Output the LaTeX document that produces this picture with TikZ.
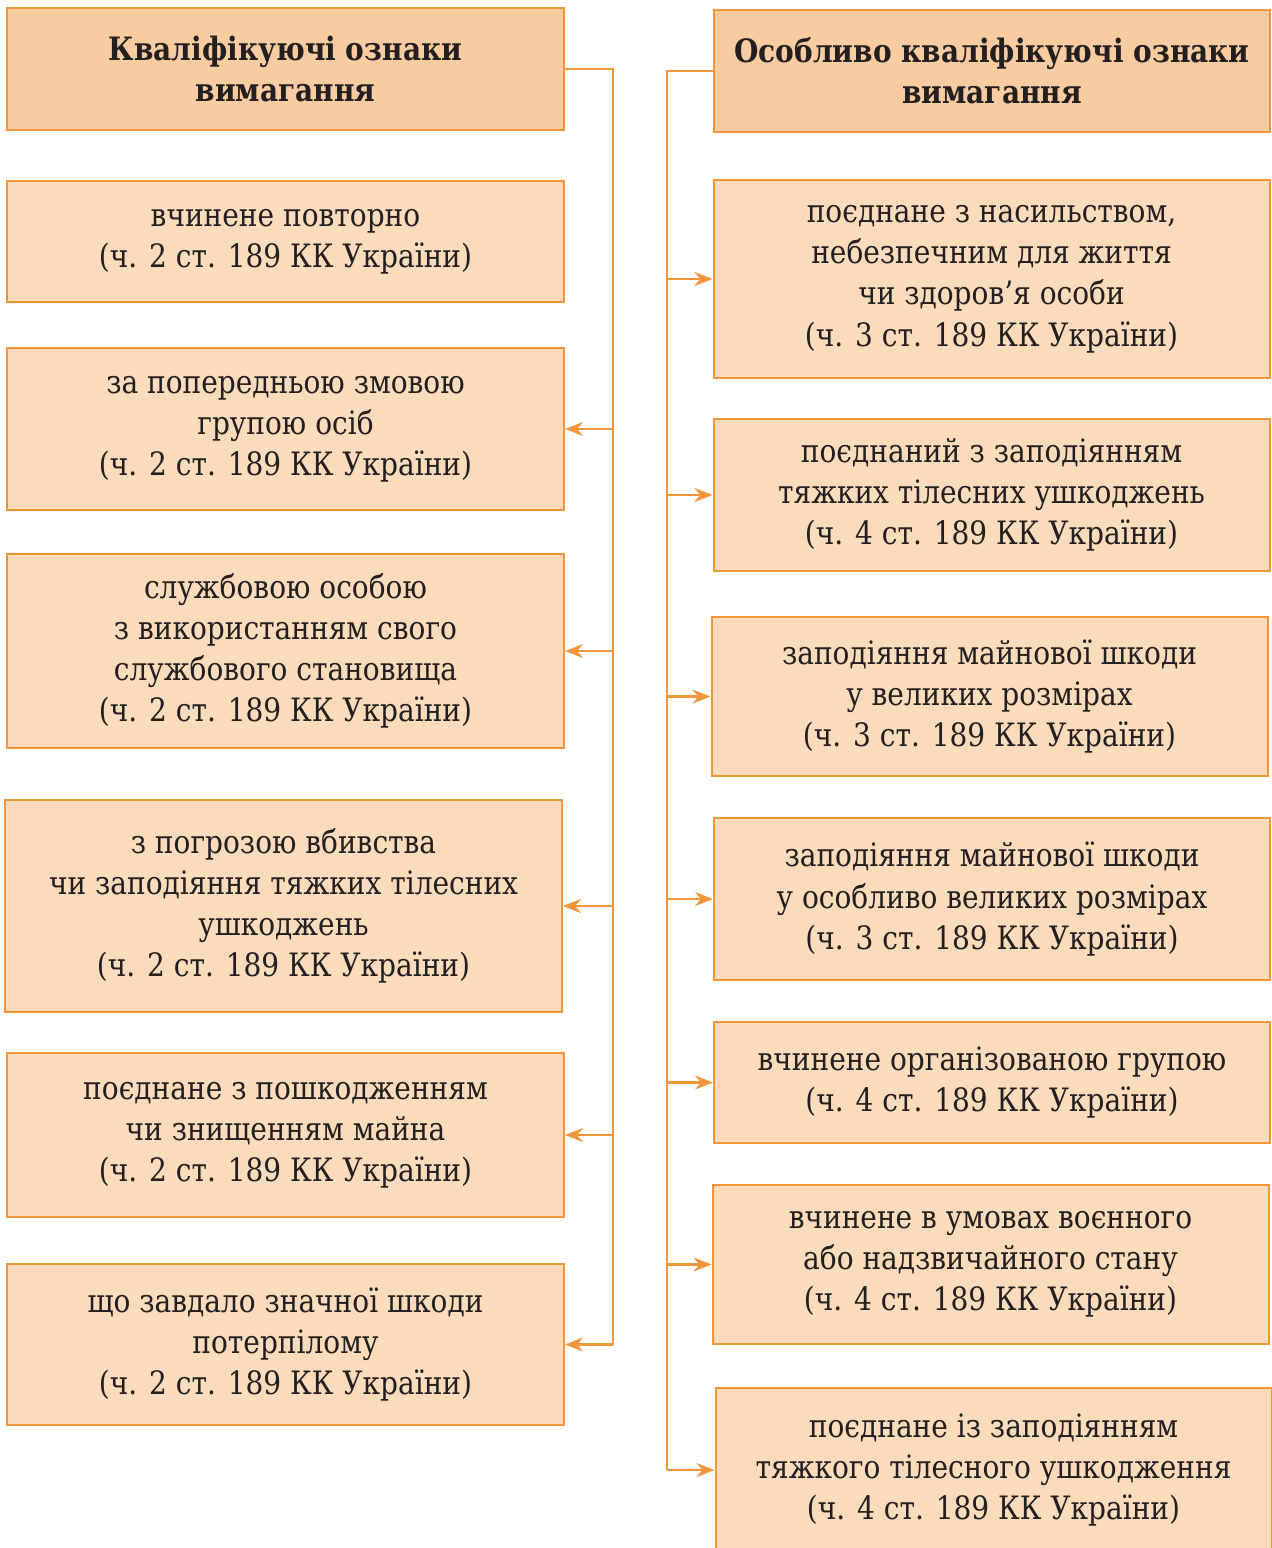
\documentclass[tikz,border=0pt]{standalone}
\usepackage{fontspec}
\setmainfont{DejaVu Serif}[FakeStretch=0.87]
\usetikzlibrary{arrows.meta}
\definecolor{boxorange}{HTML}{F0953A}
\definecolor{boxfill}{HTML}{FADBBB}
\definecolor{headfill}{HTML}{F8CBA0}
\definecolor{txt}{HTML}{231F20}
\begin{document}
\begin{tikzpicture}[x=0.5pt,y=-0.5pt,
  box/.style={draw=boxorange, line width=1pt, fill=boxfill, minimum width=278.5pt,
    align=center, inner sep=0pt, text=txt, font=\fontsize{16.1}{20.6}\selectfont},
  headbox/.style={box, fill=headfill, font=\bfseries\fontsize{16.1}{20.6}\selectfont},
  link/.style={draw=boxorange, line width=1.1pt},
  arrowlink/.style={link, -{Stealth[length=9pt,width=7pt]}}]

\useasboundingbox (0,0) rectangle (1271,1548);

% left column
\node[headbox, minimum height=61pt] (lh) at (285.5,69) {Кваліфікуючі ознаки\\вимагання};
\node[box, minimum height=60.5pt] (l1) at (285.5,241.5) {вчинене повторно\\(ч. 2 ст. 189 КК України)};
\node[box, minimum height=81pt] (l2) at (285.5,429) {за попередньою змовою\\групою осіб\\(ч. 2 ст. 189 КК України)};
\node[box, minimum height=97pt] (l3) at (285.5,651) {службовою особою\\з використанням свого\\службового становища\\(ч. 2 ст. 189 КК України)};
\node[box, minimum height=106pt] (l4) at (283.5,906) {з погрозою вбивства\\чи заподіяння тяжких тілесних\\ушкоджень\\(ч. 2 ст. 189 КК України)};
\node[box, minimum height=82pt] (l5) at (285.5,1135) {поєднане з пошкодженням\\чи знищенням майна\\(ч. 2 ст. 189 КК України)};
\node[box, minimum height=80.5pt] (l6) at (285.5,1344.5) {що завдало значної шкоди\\потерпілому\\(ч. 2 ст. 189 КК України)};

% right column
\node[headbox, minimum width=278pt, minimum height=61pt] (rh) at (992,71) {Особливо кваліфікуючі ознаки\\вимагання};
\node[box, minimum width=278pt, minimum height=99pt] (r1) at (991.5,279) {поєднане з насильством,\\небезпечним для життя\\чи здоров’я особи\\(ч. 3 ст. 189 КК України)};
\node[box, minimum width=278pt, minimum height=76pt] (r2) at (991.5,495) {поєднаний з заподіянням\\тяжких тілесних ушкоджень\\(ч. 4 ст. 189 КК України)};
\node[box, minimum width=278pt, minimum height=79.5pt] (r3) at (989.5,696.5) {заподіяння майнової шкоди\\у великих розмірах\\(ч. 3 ст. 189 КК України)};
\node[box, minimum width=278pt, minimum height=81pt] (r4) at (992,899) {заподіяння майнової шкоди\\у особливо великих розмірах\\(ч. 3 ст. 189 КК України)};
\node[box, minimum width=278pt, minimum height=60.5pt] (r5) at (992,1082.5) {вчинене організованою групою\\(ч. 4 ст. 189 КК України)};
\node[box, minimum width=278pt, minimum height=79.5pt] (r6) at (990.5,1264.5) {вчинене в умовах воєнного\\або надзвичайного стану\\(ч. 4 ст. 189 КК України)};
\node[box, minimum width=278pt, minimum height=82pt] (r7) at (993.5,1470) {поєднане із заподіянням\\тяжкого тілесного ушкодження\\(ч. 4 ст. 189 КК України)};

% trunks
\coordinate (ltr) at (613,1344.5);
\coordinate (rtr) at (667,1470);
\draw[link] (lh.east) -| (ltr);
\draw[link] (rh.west) -| (rtr);

% branches
\foreach \b in {l2,l3,l4,l5,l6}
  \draw[arrowlink] (ltr |- \b.east) -- (\b.east);
\foreach \b in {r1,r2,r3,r4,r5,r6,r7}
  \draw[arrowlink] (rtr |- \b.west) -- (\b.west);
\end{tikzpicture}
\end{document}
